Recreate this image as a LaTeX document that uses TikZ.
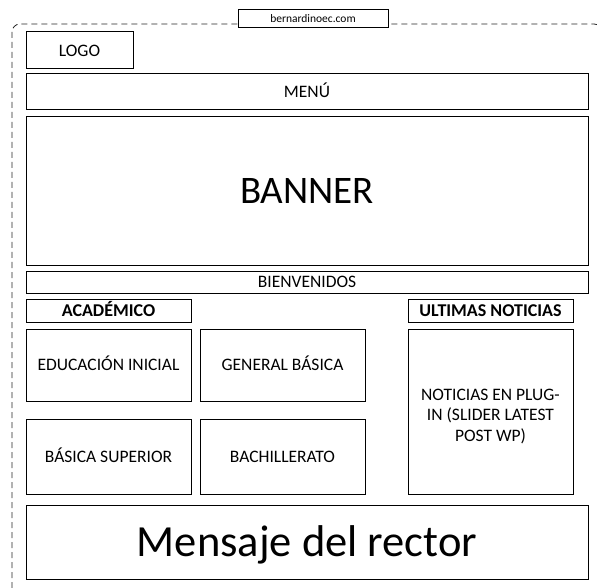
\documentclass[tikz,border=0pt]{standalone}
\usepackage{fontspec}
\setmainfont{Carlito}
\begin{document}
\begin{tikzpicture}[x=1pt,y=-1pt,
  base/.style={draw=black, line width=1pt, fill=white, inner sep=0pt, outer sep=0pt, anchor=north west, align=center, font=\fontsize{17.5}{21.4}\selectfont},
  box/.style={base, text height=11.3pt, text depth=0pt},
  boldbox/.style={base, font=\fontsize{18}{21}\selectfont\bfseries, text height=11.6pt, text depth=0pt},
  frame/.style={draw=black!85, line width=0.8pt, dash pattern=on 6pt off 4pt, rounded corners=8pt}]
\useasboundingbox (0,0) rectangle (597,588);
\begin{scope}
\clip (0,0) rectangle (597,588);
\draw[frame] (12,24) rectangle (602,596);
\end{scope}
\node (url) [base, minimum width=150pt, minimum height=18pt, font=\fontsize{11.5}{13}\selectfont, text height=7.4pt, text depth=0pt] at (238,10) {bernardinoec.com};
\node (logo) [box, minimum width=107pt, minimum height=37pt] at (26,32) {LOGO};
\node (menu) [box, minimum width=562pt, minimum height=36pt] at (26,74) {MENÚ};
\node (banner) [base, minimum width=562pt, minimum height=148pt, font=\fontsize{39}{45}\selectfont, text height=25.1pt, text depth=0pt] at (26,117) {BANNER};
\node (bienv) [box, minimum width=562pt, minimum height=22pt] at (26,271) {BIENVENIDOS};
\node (acad) [boldbox, minimum width=165pt, minimum height=23pt] at (26,299) {ACADÉMICO};
\node (ultimas) [boldbox, minimum width=165pt, minimum height=23pt] at (408,299) {ULTIMAS NOTICIAS};
\node (edu) [box, minimum width=165pt, minimum height=72pt] at (26,329) {EDUCACIÓN INICIAL};
\node (gen) [box, minimum width=165pt, minimum height=72pt] at (200,329) {GENERAL BÁSICA};
\node (bsup) [box, minimum width=165pt, minimum height=75pt] at (26,419) {BÁSICA SUPERIOR};
\node (bach) [box, minimum width=165pt, minimum height=75pt] at (200,419) {BACHILLERATO};
\node (noticias) [base, minimum width=165pt, minimum height=165pt, font=\fontsize{17.5}{20.5}\selectfont] at (408,329) {\rule{0pt}{21pt}NOTICIAS EN PLUG-\\IN (SLIDER LATEST\\POST WP)};
\node (mensaje) [base, minimum width=562pt, minimum height=74pt, font=\fontsize{44.5}{50}\selectfont, text height=28.7pt, text depth=0pt] at (26,505) {Mensaje del rector};
\end{tikzpicture}
\end{document}
